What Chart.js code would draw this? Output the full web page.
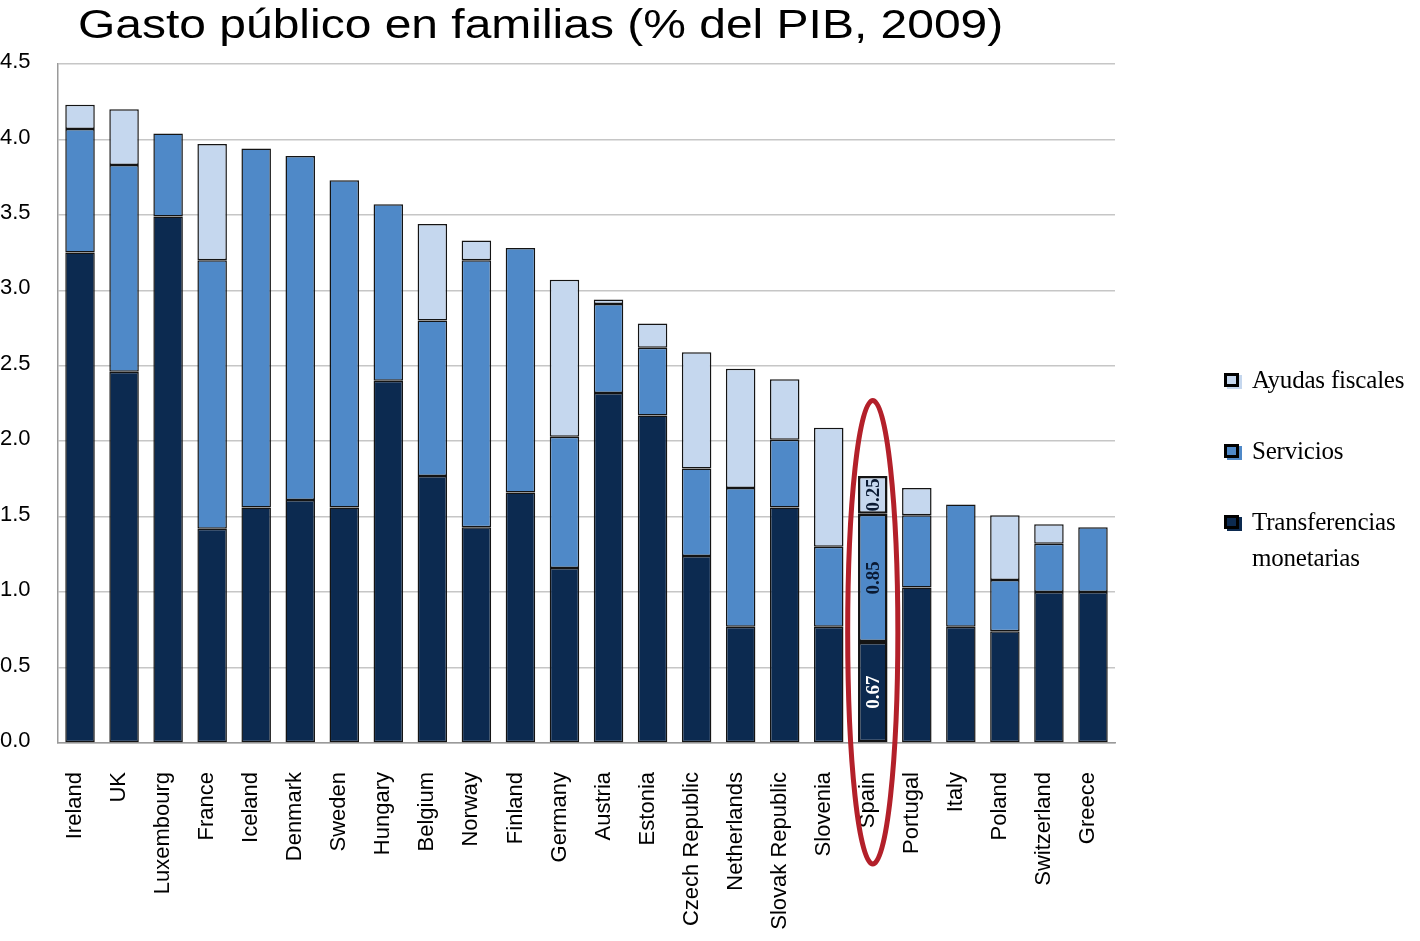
<!DOCTYPE html>
<html lang="es">
<head>
<meta charset="utf-8">
<title>Gasto público en familias</title>
<script src="https://cdn.jsdelivr.net/npm/chart.js@4.4.1/dist/chart.umd.min.js"></script>
<style>
    html, body { margin: 0; padding: 0; background: #fff; }
    #wrap { position: relative; width: 1420px; height: 941px; }
    #titulo {
        position: absolute; left: 78px; top: 1px;
        font: 41px "Liberation Sans", Arial, sans-serif;
        transform: scaleX(1.17); transform-origin: 0 0;
        white-space: nowrap; color: #000;
    }
    #leyenda {
        position: absolute; left: 1224px; top: 362px;
        font-family: "Liberation Serif", "Times New Roman", serif;
        font-size: 25px; letter-spacing: -0.2px; color: #000;
    }
    .item { display: flex; align-items: flex-start; margin-bottom: 35px; line-height: 36px; }
    .caja { flex: none; width: 9px; height: 8px; border: 3px solid #000; margin: 11px 13px 0 0; }
    .texto { width: 170px; }
</style>
</head>
<body>
<div id="wrap">
    <canvas id="grafico" width="1420" height="941"></canvas>
    <div id="titulo">Gasto público en familias (% del PIB, 2009)</div>
    <div id="leyenda"></div>
</div>
<script>
// Datos (% del PIB)
const paises = ['Ireland', 'UK', 'Luxembourg', 'France', 'Iceland', 'Denmark', 'Sweden', 'Hungary',
    'Belgium', 'Norway', 'Finland', 'Germany', 'Austria', 'Estonia', 'Czech Republic', 'Netherlands',
    'Slovak Republic', 'Slovenia', 'Spain', 'Portugal', 'Italy', 'Poland', 'Switzerland', 'Greece'];
const transferencias = [3.25, 2.46, 3.49, 1.42, 1.56, 1.61, 1.56, 2.40, 1.77, 1.43, 1.66, 1.16,
    2.32, 2.17, 1.24, 0.77, 1.56, 0.77, 0.67, 1.03, 0.77, 0.74, 1.00, 1.00];
const servicios = [0.82, 1.37, 0.55, 1.78, 2.38, 2.28, 2.17, 1.17, 1.03, 1.77, 1.62, 0.87,
    0.59, 0.45, 0.58, 0.92, 0.45, 0.53, 0.85, 0.48, 0.81, 0.34, 0.32, 0.43];
const ayudas = [0.16, 0.37, 0, 0.77, 0, 0, 0, 0, 0.64, 0.13, 0, 1.04,
    0.03, 0.16, 0.77, 0.79, 0.40, 0.79, 0.25, 0.18, 0, 0.43, 0.13, 0];
const ticksY = [0, 0.5, 1, 1.5, 2, 2.5, 3, 3.5, 4, 4.5];

const destacado = paises.indexOf('Spain');

const series = [
    { label: 'Transferencias monetarias', data: transferencias, color: '#0C2A50' },
    { label: 'Servicios', data: servicios, color: '#4F89C8' },
    { label: 'Ayudas fiscales', data: ayudas, color: '#C5D7EE' }
];

// Cifras dentro de la barra de España
const etiquetasEspana = {
    id: 'etiquetasEspana',
    afterDatasetsDraw(chart) {
        const ctx = chart.ctx;
        chart.data.datasets.forEach((ds, i) => {
            const bar = chart.getDatasetMeta(i).data[destacado];
            const valor = ds.data[destacado];
            if (!bar || !valor) return;
            const arriba = Math.min(bar.y, bar.base);
            const alto = Math.abs(bar.base - bar.y);
            ctx.save();
            ctx.beginPath();
            ctx.rect(bar.x - bar.width / 2, arriba, bar.width, alto);
            ctx.clip();
            ctx.translate(bar.x, arriba + alto / 2);
            ctx.rotate(-Math.PI / 2);
            ctx.font = 'bold 19px "Liberation Serif", serif';
            ctx.fillStyle = i === 0 ? '#ffffff' : '#0a1a33';
            ctx.textAlign = 'center';
            ctx.textBaseline = 'middle';
            ctx.fillText(valor.toFixed(2), 0, 1);
            ctx.restore();
        });
    }
};

// Elipse roja alrededor de España
const elipse = {
    id: 'elipse',
    afterDraw(chart) {
        const ctx = chart.ctx;
        const x = chart.scales.x.getPixelForValue(destacado);
        const y = chart.scales.y;
        const arriba = y.getPixelForValue(2.27);
        const abajo = chart.chartArea.bottom + 121;
        const ancho = chart.getDatasetMeta(0).data[destacado].width;
        ctx.save();
        ctx.beginPath();
        ctx.ellipse(x, (arriba + abajo) / 2, ancho * 0.85, (abajo - arriba) / 2, 0, 0, Math.PI * 2);
        ctx.strokeStyle = '#B3202A';
        ctx.lineWidth = 5;
        ctx.stroke();
        ctx.restore();
    }
};

new Chart(document.getElementById('grafico'), {
    type: 'bar',
    data: {
        labels: paises,
        datasets: series.map(s => ({
            label: s.label,
            data: s.data.map(v => v || null),
            backgroundColor: s.color,
            borderColor: '#141414',
            borderWidth: c => c.dataIndex === destacado ? 2.5 : 1.5,
            borderSkipped: false,
            barPercentage: 0.67,
            categoryPercentage: 1
        }))
    },
    options: {
        responsive: false,
        animation: false,
        layout: { padding: { top: 64, right: 305, left: 0, bottom: 0 } },
        plugins: {
            legend: { display: false },
            tooltip: { enabled: false }
        },
        scales: {
            x: {
                stacked: true,
                afterFit: s => { s.height = 198; },
                grid: { display: false },
                border: { color: '#9a9a9a', width: 1.5 },
                ticks: {
                    autoSkip: false, maxRotation: 90, minRotation: 90, padding: 21, labelOffset: -5,
                    color: '#000', font: { family: '"Liberation Sans", Arial', size: 22 }
                }
            },
            y: {
                stacked: true,
                min: 0,
                max: 4.5,
                afterFit: s => { s.width = 58; },
                afterBuildTicks: s => { s.ticks = ticksY.map(v => ({ value: v })); },
                grid: { color: '#c6c6c6', lineWidth: 1.5, drawTicks: false },
                border: { color: '#9a9a9a', width: 1.5 },
                ticks: {
                    crossAlign: 'far', padding: 0, labelOffset: -2,
                    color: '#000', font: { family: '"Liberation Sans", Arial', size: 22 },
                    callback: v => Number(v).toFixed(1)
                }
            }
        }
    },
    plugins: [etiquetasEspana, elipse]
});

// Leyenda (orden inverso a la pila)
const leyenda = document.getElementById('leyenda');
series.slice().reverse().forEach(s => {
    const item = document.createElement('div');
    item.className = 'item';
    item.innerHTML = `<span class="caja" style="background:${s.color};box-shadow:3px 2px 0 ${s.color}"></span><span class="texto">${s.label}</span>`;
    leyenda.appendChild(item);
});
</script>
</body>
</html>
